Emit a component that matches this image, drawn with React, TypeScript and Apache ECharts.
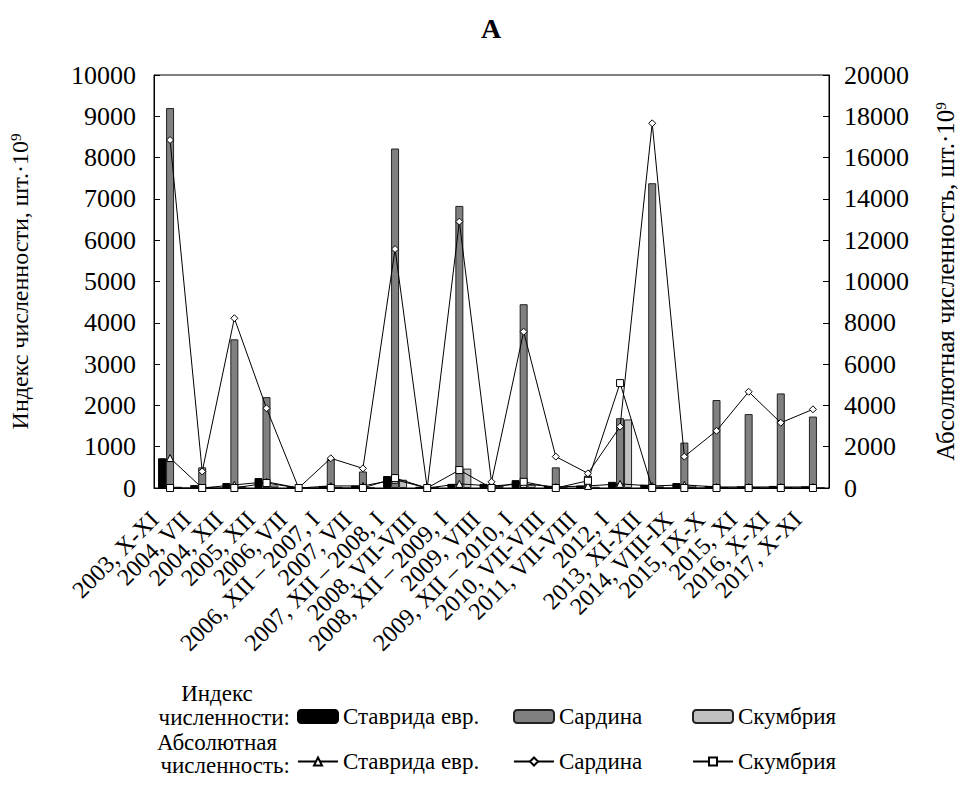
import React, { useEffect, useRef } from "react";
import * as echarts from "echarts";

const categories = [
  "2003, X-XI", "2004, VII", "2004, XII", "2005, XII", "2006, VII",
  "2006, XII – 2007, I", "2007, VII", "2007, XII – 2008, I", "2008, VII-VIII",
  "2008, XII – 2009, I", "2009, VIII", "2009, XII – 2010, I", "2010, VII-VIII",
  "2011, VII-VIII", "2012, I", "2013, XI-XII", "2014, VIII-IX", "2015, IX-X",
  "2015, XI", "2016, X-XI", "2017, X-XI",
];

const indexStavrida = [720, 70, 120, 240, 30, 50, 60, 290, 30, 100, 100, 190, 50, 60, 150, 80, 120, 50, 40, 50, 40];
const indexSardina = [9200, 500, 3600, 2200, 0, 700, 400, 8220, 0, 6830, 100, 4450, 500, 300, 1690, 7380, 1100, 2130, 1790, 2290, 1730];
const indexSkumbria = [30, 20, 40, 60, 10, 30, 20, 200, 20, 470, 60, 80, 20, 30, 1660, 40, 60, 20, 20, 20, 20];

const absStavrida = [1450, 0, 150, 300, 0, 100, 100, 400, 0, 200, 100, 200, 50, 100, 200, 100, 150, 50, 50, 50, 50];
const absSardina = [16850, 800, 8220, 3860, 0, 1440, 950, 11570, 0, 12900, 300, 7570, 1520, 710, 2970, 17660, 1520, 2770, 4660, 3160, 3810];
const absSkumbria = [0, 0, 0, 240, 0, 0, 0, 480, 0, 870, 0, 300, 0, 350, 5080, 0, 0, 0, 0, 0, 0];

const leftTicks = { min: 0, max: 10000, interval: 1000 };
const rightTicks = { min: 0, max: 20000, interval: 2000 };

const FONT = "'Liberation Serif', 'Times New Roman', serif";

export default function App() {
  const ref = useRef<HTMLDivElement>(null);
  useEffect(() => {
    if (!ref.current) return;
    const chart = echarts.init(ref.current, undefined, { renderer: "svg" });
    const textBase = { fontFamily: FONT, color: "#000" };
    const lineItem = (symbol: string, size: number) => ({
      type: "line" as const,
      yAxisIndex: 1,
      symbol,
      symbolSize: size,
      showAllSymbol: true,
      lineStyle: { color: "#000", width: 1 },
      itemStyle: { color: "#fff", borderColor: "#000", borderWidth: 1 },
      z: 5,
    });
    const legendText = { ...textBase, fontSize: 23 };
    const mkLegend = (name: string, left: number, top: number, series: "bar" | "line") => ({
      show: true,
      data: [name],
      left,
      top,
      padding: 0,
      itemWidth: 40,
      itemHeight: series === "bar" ? 13 : 10,
      itemGap: 4,
      textStyle: legendText,
      selectedMode: false,
    });
    const numFmt = (v: number) => String(v);
    const supStyle = { sup: { fontFamily: FONT, fontSize: 15, color: "#000", verticalAlign: "top", padding: [0, 0, 9, 0] } };
    const labelFont = `23px ${FONT}`;
    chart.setOption({
      animation: false,
      backgroundColor: "#fff",
      title: {
        text: "А",
        left: 476,
        top: 9,
        padding: 5,
        textStyle: { ...textBase, fontSize: 28, fontWeight: "bold" },
      },
      grid: { left: 153, right: 134, top: 75, bottom: 297, show: true, borderColor: "#000", borderWidth: 1, backgroundColor: "transparent" },
      legend: [
        mkLegend("Ставрида евр.", 297, 705, "bar"),
        mkLegend("Сардина", 513, 705, "bar"),
        mkLegend("Скумбрия", 692, 705, "bar"),
        mkLegend("Ставрида евр. ", 297, 750, "line"),
        mkLegend("Сардина ", 513, 750, "line"),
        mkLegend("Скумбрия ", 692, 750, "line"),
      ],
      graphic: [
        { type: "text", x: 217, y: 693, style: { text: "Индекс", font: labelFont, fill: "#000", align: "center", verticalAlign: "middle" } },
        { type: "text", x: 290, y: 717, style: { text: "численности:", font: labelFont, fill: "#000", align: "right", verticalAlign: "middle" } },
        { type: "text", x: 217, y: 742, style: { text: "Абсолютная", font: labelFont, fill: "#000", align: "center", verticalAlign: "middle" } },
        { type: "text", x: 290, y: 765, style: { text: "численность:", font: labelFont, fill: "#000", align: "right", verticalAlign: "middle" } },
      ],
      xAxis: {
        type: "category",
        data: categories,
        boundaryGap: true,
        axisLine: { lineStyle: { color: "#000", width: 1 } },
        axisTick: { show: false },
        axisLabel: { ...textBase, fontSize: 24, rotate: 45, interval: 0, margin: 12, padding: [0, 22, 0, 0] },
        splitLine: { show: false },
      },
      yAxis: [
        {
          type: "value",
          ...leftTicks,
          position: "left",
          name: "Индекс численности, шт.·10{sup|9}",
          nameLocation: "middle",
          nameRotate: 90,
          nameGap: 122,
          nameTextStyle: { ...textBase, fontSize: 24, rich: supStyle },
          axisLine: { show: true, lineStyle: { color: "#000" } },
          axisTick: { show: true, inside: true, length: 6, lineStyle: { color: "#000" } },
          axisLabel: { ...textBase, fontSize: 26, margin: 18, formatter: numFmt },
          splitLine: { show: false },
        },
        {
          type: "value",
          ...rightTicks,
          position: "right",
          name: "Абсолютная численность, шт.·10{sup|9}",
          nameLocation: "middle",
          nameRotate: 90,
          nameGap: 104,
          nameTextStyle: { ...textBase, fontSize: 25, rich: supStyle },
          axisLine: { show: true, lineStyle: { color: "#000" } },
          axisTick: { show: true, inside: true, length: 6, lineStyle: { color: "#000" } },
          axisLabel: { ...textBase, fontSize: 26, margin: 15, formatter: numFmt },
          splitLine: { show: false },
        },
      ],
      series: [
        { name: "Ставрида евр.", type: "bar", data: indexStavrida, barWidth: 8, barGap: "0%", itemStyle: { color: "#000", borderColor: "#000", borderWidth: 1 } },
        { name: "Сардина", type: "bar", data: indexSardina, barWidth: 8, barGap: "0%", itemStyle: { color: "#808080", borderColor: "#222", borderWidth: 1 } },
        { name: "Скумбрия", type: "bar", data: indexSkumbria, barWidth: 8, barGap: "0%", itemStyle: { color: "#c0c0c0", borderColor: "#222", borderWidth: 1 } },
        { name: "Ставрида евр. ", data: absStavrida, ...lineItem("triangle", 7) },
        { name: "Сардина ", data: absSardina, ...lineItem("diamond", 7) },
        { name: "Скумбрия ", data: absSkumbria, ...lineItem("rect", 7) },
      ],
    });
    return () => chart.dispose();
  }, []);
  return (
    <div
      ref={ref}
      style={{ position: "fixed", left: 0, top: 0, width: 966, height: 785 }}
    />
  );
}
